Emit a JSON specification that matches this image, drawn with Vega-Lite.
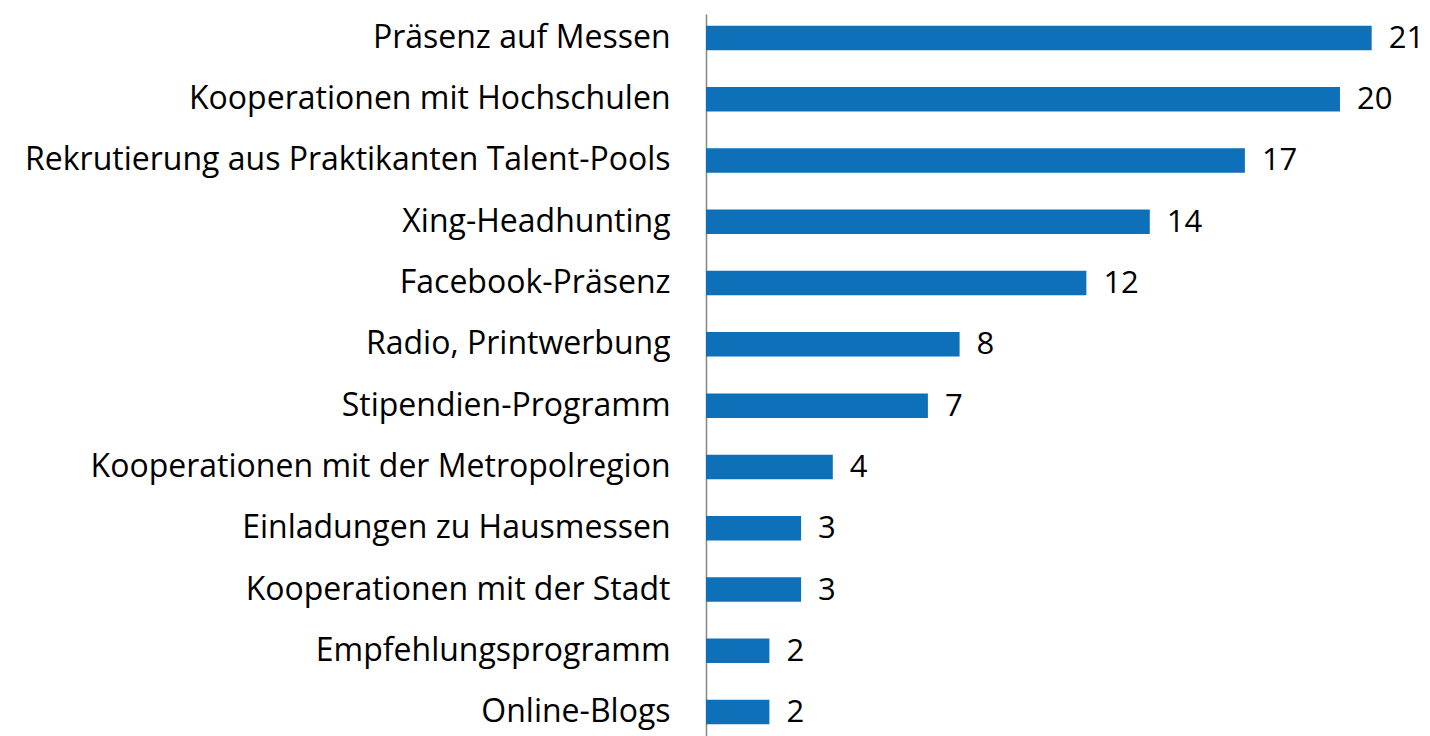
{
  "$schema": "https://vega.github.io/schema/vega-lite/v6.json",
  "autosize": {"type": "none"},
  "padding": {"left": 706, "top": 14, "right": 0, "bottom": 0},
  "width": 724,
  "height": 722,
  "background": "white",
  "config": {"view": {"stroke": null}},
  "data": {
    "values": [
      {"label": "Präsenz auf Messen", "value": 21},
      {"label": "Kooperationen mit Hochschulen", "value": 20},
      {"label": "Rekrutierung aus Praktikanten Talent-Pools", "value": 17},
      {"label": "Xing-Headhunting", "value": 14},
      {"label": "Facebook-Präsenz", "value": 12},
      {"label": "Radio, Printwerbung", "value": 8},
      {"label": "Stipendien-Programm", "value": 7},
      {"label": "Kooperationen mit der Metropolregion ", "value": 4},
      {"label": "Einladungen zu Hausmessen", "value": 3},
      {"label": "Kooperationen mit der Stadt", "value": 3},
      {"label": "Empfehlungsprogramm", "value": 2},
      {"label": "Online-Blogs", "value": 2}
    ]
  },
  "encoding": {
    "y": {
      "field": "label",
      "type": "nominal",
      "sort": null,
      "scale": {"paddingInner": 0.6, "paddingOuter": 0.19},
      "axis": {
        "title": null,
        "ticks": false,
        "labelPadding": 36,
        "labelFont": "Open Sans",
        "labelFontSize": 32,
        "labelColor": "#000000",
        "labelLimit": 0,
        "domainColor": "#868686",
        "domainWidth": 1.5
      }
    },
    "x": {
      "field": "value",
      "type": "quantitative",
      "scale": {"domain": [0, 22.84], "nice": false},
      "axis": null
    }
  },
  "layer": [
    {"mark": {"type": "bar", "color": "#0E70B8"}},
    {
      "mark": {"type": "text", "align": "left", "baseline": "middle", "dx": 17, "dy": 1, "font": "Open Sans", "fontSize": 31, "color": "#000000"},
      "encoding": {"text": {"field": "value", "type": "quantitative"}}
    }
  ]
}
